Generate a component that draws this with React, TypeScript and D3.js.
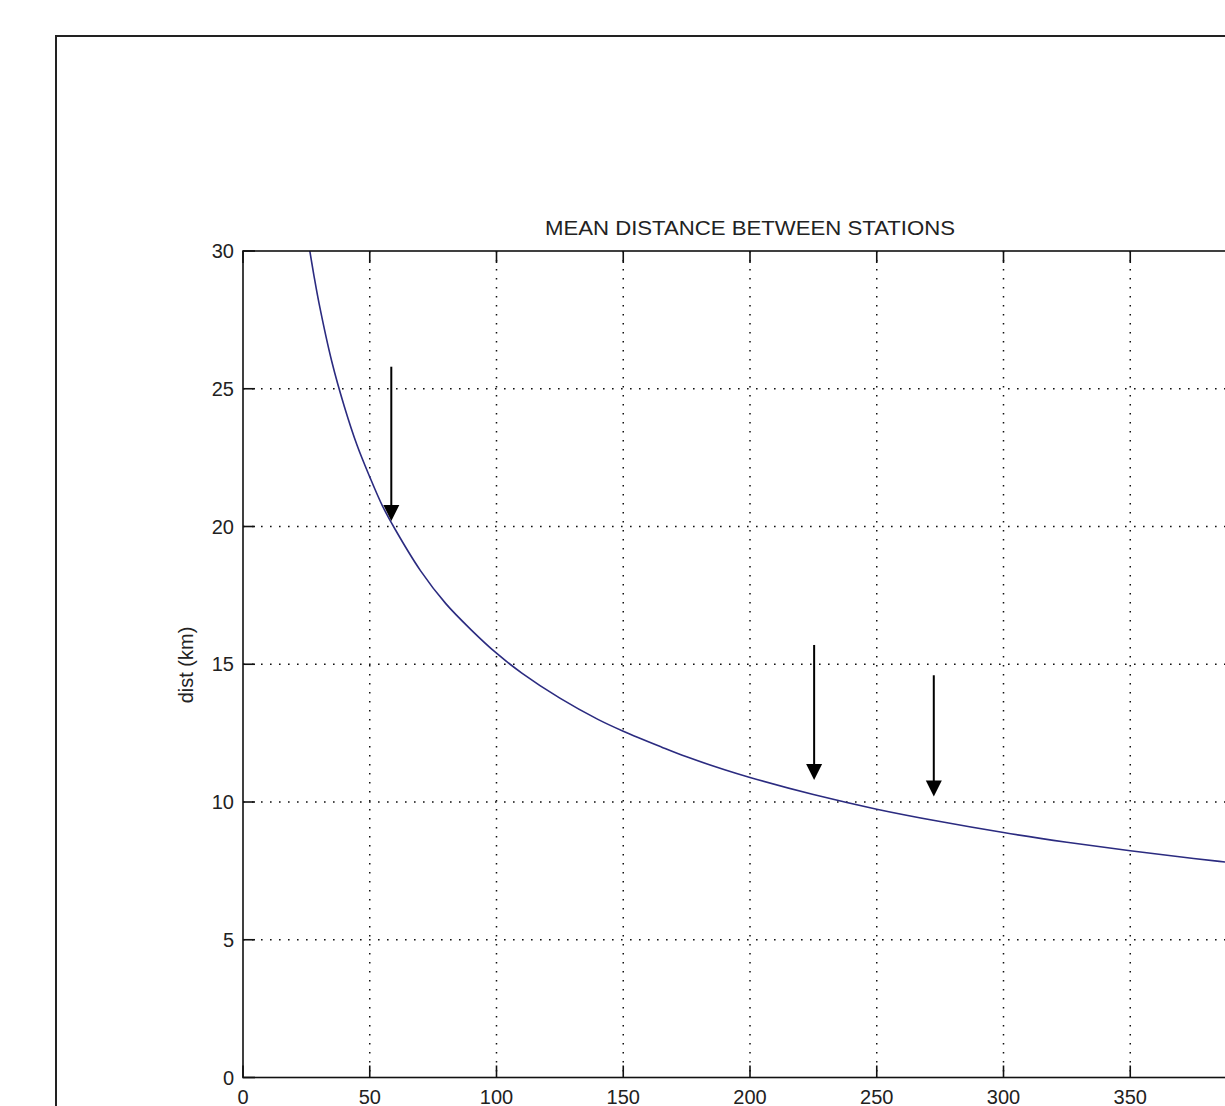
import { useRef, useEffect } from 'react'
import * as d3 from 'd3'

// stations count vs mean distance
const stations = [26, 28, 30, 35, 40, 45, 50, 55, 60, 70, 80, 90, 100, 110, 125, 140, 150, 165, 175, 190, 200, 225, 250, 275, 300, 325, 350, 375, 400]
const distKm = [30.2, 29.1, 28.1, 26.0, 24.35, 22.95, 21.8, 20.75, 19.9, 18.4, 17.2, 16.25, 15.4, 14.68, 13.77, 13.0, 12.57, 12.0, 11.64, 11.17, 10.89, 10.27, 9.74, 9.29, 8.89, 8.54, 8.23, 7.95, 7.7]

// arrows: x position, start value, tip value
const arrowX = [58.5, 225.3, 272.5]
const arrowFrom = [25.8, 15.7, 14.6]
const arrowTo = [20.2, 10.8, 10.2]

const xTicks = [0, 50, 100, 150, 200, 250, 300, 350, 400]
const xTickLabels = ['0', '50', '100', '150', '200', '250', '300', '350', '']
const yTicks = [0, 5, 10, 15, 20, 25, 30]

const title = 'MEAN DISTANCE BETWEEN STATIONS'
const yLabel = 'dist (km)'

const App = () => {
  const ref = useRef(null)

  const W = 1225
  const H = 1106
  const margin = { top: 251, left: 243 }
  const innerW = 126.75 * 8
  const innerH = 1077.5 - 251

  useEffect(() => {
    const svg = d3.select(ref.current)
    svg.selectAll('*').remove()

    // outer figure box
    svg.append('rect')
      .attr('x', 56).attr('y', 36)
      .attr('width', 1400).attr('height', 1200)
      .attr('fill', 'none')
      .attr('stroke', '#222')
      .attr('stroke-width', 2)

    const x = d3.scaleLinear().domain([0, 400]).range([0, innerW])
    const y = d3.scaleLinear().domain([0, 30]).range([innerH, 0])

    const g = svg.append('g')
      .attr('transform', `translate(${margin.left},${margin.top})`)

    svg.append('defs').append('clipPath').attr('id', 'plotclip')
      .append('rect').attr('width', innerW).attr('height', innerH)

    const font = '"Liberation Sans", Arial, Helvetica, sans-serif'

    // grid
    g.selectAll('.vgrid')
      .data(xTicks.filter(d => d > 0 && d < 400))
      .join('line')
      .attr('x1', d => x(d)).attr('x2', d => x(d))
      .attr('y1', 0).attr('y2', innerH)
      .attr('stroke', '#111')
      .attr('stroke-width', 1.5)
      .attr('stroke-dasharray', '1.6,7.4')

    g.selectAll('.hgrid')
      .data(yTicks.filter(d => d > 0 && d < 30))
      .join('line')
      .attr('y1', d => y(d)).attr('y2', d => y(d))
      .attr('x1', 0).attr('x2', innerW)
      .attr('stroke', '#111')
      .attr('stroke-width', 1.5)
      .attr('stroke-dasharray', '1.6,7.4')

    // curve
    const line = d3.line()
      .x((d, i) => x(stations[i]))
      .y(d => y(d))
      .curve(d3.curveCatmullRom.alpha(0.5))

    g.append('path')
      .datum(distKm)
      .attr('clip-path', 'url(#plotclip)')
      .attr('d', line)
      .attr('fill', 'none')
      .attr('stroke', '#2b2b80')
      .attr('stroke-width', 1.6)

    // axes box
    g.append('rect')
      .attr('width', innerW).attr('height', innerH)
      .attr('fill', 'none')
      .attr('stroke', '#111')
      .attr('stroke-width', 1.6)

    // inward ticks, MATLAB style
    const tl = 12
    xTicks.forEach((t, i) => {
      g.append('line').attr('x1', x(t)).attr('x2', x(t))
        .attr('y1', innerH).attr('y2', innerH - tl)
        .attr('stroke', '#111').attr('stroke-width', 1.6)
      g.append('line').attr('x1', x(t)).attr('x2', x(t))
        .attr('y1', 0).attr('y2', tl)
        .attr('stroke', '#111').attr('stroke-width', 1.6)
      if (xTickLabels[i]) {
        g.append('text')
          .attr('x', x(t)).attr('y', innerH + 26)
          .attr('text-anchor', 'middle')
          .attr('font-family', font).attr('font-size', 20)
          .attr('fill', '#222')
          .text(xTickLabels[i])
      }
    })
    yTicks.forEach(t => {
      g.append('line').attr('x1', 0).attr('x2', tl)
        .attr('y1', y(t)).attr('y2', y(t))
        .attr('stroke', '#111').attr('stroke-width', 1.6)
      g.append('line').attr('x1', innerW).attr('x2', innerW - tl)
        .attr('y1', y(t)).attr('y2', y(t))
        .attr('stroke', '#111').attr('stroke-width', 1.6)
      g.append('text')
        .attr('x', -9).attr('y', y(t) + 7)
        .attr('text-anchor', 'end')
        .attr('font-family', font).attr('font-size', 20)
        .attr('fill', '#222')
        .text(t)
    })

    // title + y label
    g.append('text')
      .attr('x', 750 - margin.left).attr('y', -16)
      .attr('text-anchor', 'middle')
      .attr('font-family', font).attr('font-size', 21)
      .attr('textLength', 410)
      .attr('lengthAdjust', 'spacingAndGlyphs')
      .attr('fill', '#222')
      .text(title)

    g.append('text')
      .attr('transform', `translate(${186 - margin.left + 7},${665 - margin.top}) rotate(-90)`)
      .attr('text-anchor', 'middle')
      .attr('font-family', font).attr('font-size', 20)
      .attr('fill', '#222')
      .text(yLabel)

    // arrows
    const head = 16
    arrowX.forEach((ax, i) => {
      const px = x(ax)
      const y0 = y(arrowFrom[i])
      const y1 = y(arrowTo[i])
      g.append('line')
        .attr('x1', px).attr('x2', px)
        .attr('y1', y0).attr('y2', y1 - head + 2)
        .attr('stroke', '#000').attr('stroke-width', 2)
      g.append('path')
        .attr('d', `M${px - 8},${y1 - head} L${px + 8},${y1 - head} L${px},${y1} Z`)
        .attr('fill', '#000')
    })
  })

  return (
    <div style={{ position: 'absolute', left: 0, top: 0 }}>
      <svg ref={ref} width={W} height={H} style={{ display: 'block', background: '#fff' }}></svg>
    </div>
  )
}

export default App
